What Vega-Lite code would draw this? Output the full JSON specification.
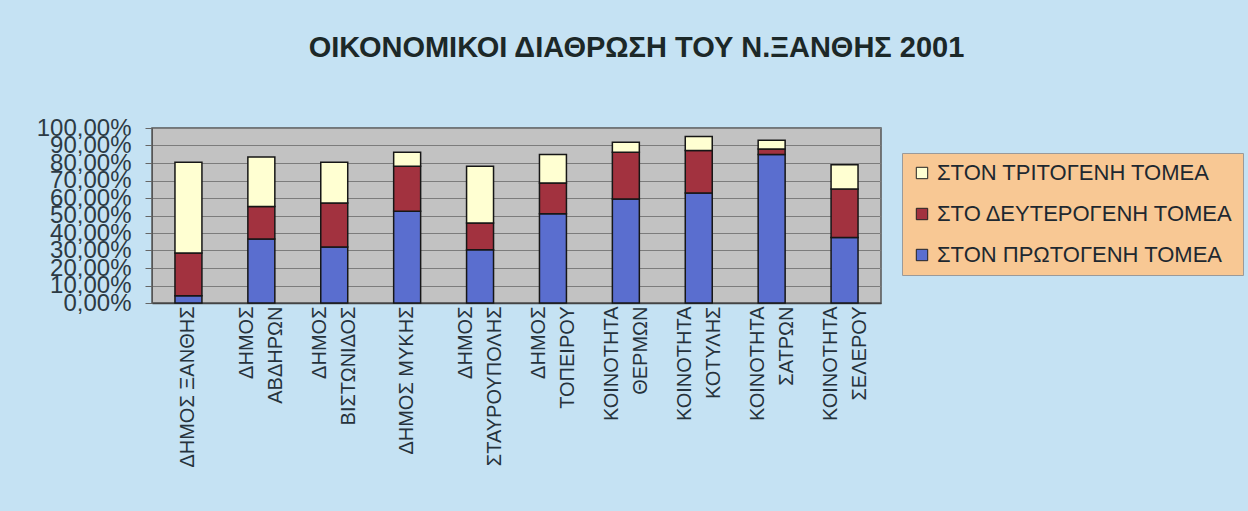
{
  "$schema": "https://vega.github.io/schema/vega-lite/v6.json",
  "width": 729,
  "height": 175,
  "autosize": {"type": "none"},
  "padding": {"left": 152, "top": 128, "right": 367, "bottom": 208},
  "background": "#C5E2F3",
  "title": {
    "text": "ΟΙΚΟΝΟΜΙΚΟΙ ΔΙΑΘΡΩΣΗ ΤΟΥ Ν.ΞΑΝΘΗΣ 2001",
    "font": "Liberation Sans",
    "fontSize": 29,
    "fontWeight": "bold",
    "color": "#1c2828",
    "anchor": "middle",
    "frame": "group",
    "dx": 120,
    "baseline": "alphabetic",
    "offset": 30
  },
  "data": {
    "values": [
      {"area": "ΔΗΜΟΣ ΞΑΝΘΗΣ", "sector": "ΣΤΟΝ ΠΡΩΤΟΓΕΝΗ ΤΟΜΕΑ", "ord": 1, "value": 0.042},
      {"area": "ΔΗΜΟΣ ΞΑΝΘΗΣ", "sector": "ΣΤΟ ΔΕΥΤΕΡΟΓΕΝΗ ΤΟΜΕΑ", "ord": 2, "value": 0.244},
      {"area": "ΔΗΜΟΣ ΞΑΝΘΗΣ", "sector": "ΣΤΟΝ ΤΡΙΤΟΓΕΝΗ ΤΟΜΕΑ", "ord": 3, "value": 0.518},
      {"area": "ΔΗΜΟΣ\nΑΒΔΗΡΩΝ", "sector": "ΣΤΟΝ ΠΡΩΤΟΓΕΝΗ ΤΟΜΕΑ", "ord": 1, "value": 0.366},
      {"area": "ΔΗΜΟΣ\nΑΒΔΗΡΩΝ", "sector": "ΣΤΟ ΔΕΥΤΕΡΟΓΕΝΗ ΤΟΜΕΑ", "ord": 2, "value": 0.186},
      {"area": "ΔΗΜΟΣ\nΑΒΔΗΡΩΝ", "sector": "ΣΤΟΝ ΤΡΙΤΟΓΕΝΗ ΤΟΜΕΑ", "ord": 3, "value": 0.282},
      {"area": "ΔΗΜΟΣ\nΒΙΣΤΩΝΙΔΟΣ", "sector": "ΣΤΟΝ ΠΡΩΤΟΓΕΝΗ ΤΟΜΕΑ", "ord": 1, "value": 0.32},
      {"area": "ΔΗΜΟΣ\nΒΙΣΤΩΝΙΔΟΣ", "sector": "ΣΤΟ ΔΕΥΤΕΡΟΓΕΝΗ ΤΟΜΕΑ", "ord": 2, "value": 0.251},
      {"area": "ΔΗΜΟΣ\nΒΙΣΤΩΝΙΔΟΣ", "sector": "ΣΤΟΝ ΤΡΙΤΟΓΕΝΗ ΤΟΜΕΑ", "ord": 3, "value": 0.233},
      {"area": "ΔΗΜΟΣ ΜΥΚΗΣ", "sector": "ΣΤΟΝ ΠΡΩΤΟΓΕΝΗ ΤΟΜΕΑ", "ord": 1, "value": 0.524},
      {"area": "ΔΗΜΟΣ ΜΥΚΗΣ", "sector": "ΣΤΟ ΔΕΥΤΕΡΟΓΕΝΗ ΤΟΜΕΑ", "ord": 2, "value": 0.257},
      {"area": "ΔΗΜΟΣ ΜΥΚΗΣ", "sector": "ΣΤΟΝ ΤΡΙΤΟΓΕΝΗ ΤΟΜΕΑ", "ord": 3, "value": 0.08},
      {"area": "ΔΗΜΟΣ\nΣΤΑΥΡΟΥΠΟΛΗΣ", "sector": "ΣΤΟΝ ΠΡΩΤΟΓΕΝΗ ΤΟΜΕΑ", "ord": 1, "value": 0.305},
      {"area": "ΔΗΜΟΣ\nΣΤΑΥΡΟΥΠΟΛΗΣ", "sector": "ΣΤΟ ΔΕΥΤΕΡΟΓΕΝΗ ΤΟΜΕΑ", "ord": 2, "value": 0.152},
      {"area": "ΔΗΜΟΣ\nΣΤΑΥΡΟΥΠΟΛΗΣ", "sector": "ΣΤΟΝ ΤΡΙΤΟΓΕΝΗ ΤΟΜΕΑ", "ord": 3, "value": 0.324},
      {"area": "ΔΗΜΟΣ\nΤΟΠΕΙΡΟΥ", "sector": "ΣΤΟΝ ΠΡΩΤΟΓΕΝΗ ΤΟΜΕΑ", "ord": 1, "value": 0.51},
      {"area": "ΔΗΜΟΣ\nΤΟΠΕΙΡΟΥ", "sector": "ΣΤΟ ΔΕΥΤΕΡΟΓΕΝΗ ΤΟΜΕΑ", "ord": 2, "value": 0.176},
      {"area": "ΔΗΜΟΣ\nΤΟΠΕΙΡΟΥ", "sector": "ΣΤΟΝ ΤΡΙΤΟΓΕΝΗ ΤΟΜΕΑ", "ord": 3, "value": 0.162},
      {"area": "ΚΟΙΝΟΤΗΤΑ\nΘΕΡΜΩΝ", "sector": "ΣΤΟΝ ΠΡΩΤΟΓΕΝΗ ΤΟΜΕΑ", "ord": 1, "value": 0.594},
      {"area": "ΚΟΙΝΟΤΗΤΑ\nΘΕΡΜΩΝ", "sector": "ΣΤΟ ΔΕΥΤΕΡΟΓΕΝΗ ΤΟΜΕΑ", "ord": 2, "value": 0.267},
      {"area": "ΚΟΙΝΟΤΗΤΑ\nΘΕΡΜΩΝ", "sector": "ΣΤΟΝ ΤΡΙΤΟΓΕΝΗ ΤΟΜΕΑ", "ord": 3, "value": 0.057},
      {"area": "ΚΟΙΝΟΤΗΤΑ\nΚΟΤΥΛΗΣ", "sector": "ΣΤΟΝ ΠΡΩΤΟΓΕΝΗ ΤΟΜΕΑ", "ord": 1, "value": 0.629},
      {"area": "ΚΟΙΝΟΤΗΤΑ\nΚΟΤΥΛΗΣ", "sector": "ΣΤΟ ΔΕΥΤΕΡΟΓΕΝΗ ΤΟΜΕΑ", "ord": 2, "value": 0.243},
      {"area": "ΚΟΙΝΟΤΗΤΑ\nΚΟΤΥΛΗΣ", "sector": "ΣΤΟΝ ΤΡΙΤΟΓΕΝΗ ΤΟΜΕΑ", "ord": 3, "value": 0.08},
      {"area": "ΚΟΙΝΟΤΗΤΑ\nΣΑΤΡΩΝ", "sector": "ΣΤΟΝ ΠΡΩΤΟΓΕΝΗ ΤΟΜΕΑ", "ord": 1, "value": 0.848},
      {"area": "ΚΟΙΝΟΤΗΤΑ\nΣΑΤΡΩΝ", "sector": "ΣΤΟ ΔΕΥΤΕΡΟΓΕΝΗ ΤΟΜΕΑ", "ord": 2, "value": 0.032},
      {"area": "ΚΟΙΝΟΤΗΤΑ\nΣΑΤΡΩΝ", "sector": "ΣΤΟΝ ΤΡΙΤΟΓΕΝΗ ΤΟΜΕΑ", "ord": 3, "value": 0.05},
      {"area": "ΚΟΙΝΟΤΗΤΑ\nΣΕΛΕΡΟΥ", "sector": "ΣΤΟΝ ΠΡΩΤΟΓΕΝΗ ΤΟΜΕΑ", "ord": 1, "value": 0.375},
      {"area": "ΚΟΙΝΟΤΗΤΑ\nΣΕΛΕΡΟΥ", "sector": "ΣΤΟ ΔΕΥΤΕΡΟΓΕΝΗ ΤΟΜΕΑ", "ord": 2, "value": 0.276},
      {"area": "ΚΟΙΝΟΤΗΤΑ\nΣΕΛΕΡΟΥ", "sector": "ΣΤΟΝ ΤΡΙΤΟΓΕΝΗ ΤΟΜΕΑ", "ord": 3, "value": 0.139}
    ]
  },
  "mark": {"type": "bar", "stroke": "#161616", "strokeWidth": 1.5},
  "encoding": {
    "x": {
      "field": "area",
      "type": "nominal",
      "sort": null,
      "scale": {"paddingInner": 0.63, "paddingOuter": 0.315},
      "axis": {
        "title": null,
        "labelAngle": -90,
        "labelAlign": "right",
        "labelBaseline": "middle",
        "labelExpr": "split(datum.label, '\\n')",
        "labelOffset": {"condition": {"test": "indexof(datum.label, '\\n') >= 0", "value": -14}, "value": 0},
        "labelFont": "Liberation Sans",
        "labelFontSize": 20,
        "labelLineHeight": 29,
        "labelColor": "#26323c",
        "labelPadding": 3,
        "labelLimit": 0,
        "ticks": false,
        "domainColor": "#444",
        "domainWidth": 1.5,
        "grid": false
      }
    },
    "y": {
      "field": "value",
      "type": "quantitative",
      "stack": "zero",
      "scale": {"domain": [0, 1], "nice": false},
      "axis": {
        "title": null,
        "values": [0, 0.1, 0.2, 0.3, 0.4, 0.5, 0.6, 0.7, 0.8, 0.9, 1],
        "labelExpr": "replace(format(datum.value, '.2%'), '.', ',')",
        "labelFont": "Liberation Sans",
        "labelFontSize": 24,
        "labelColor": "#2c3a44",
        "labelPadding": 14,
        "labelOverlap": false,
        "labelFlush": false,
        "labelBaseline": "middle",
        "tickSize": 7,
        "tickColor": "#666",
        "domainColor": "#555",
        "gridColor": "#7c7c7c",
        "gridWidth": 1
      }
    },
    "color": {
      "field": "sector",
      "type": "nominal",
      "scale": {
        "domain": ["ΣΤΟΝ ΤΡΙΤΟΓΕΝΗ ΤΟΜΕΑ", "ΣΤΟ ΔΕΥΤΕΡΟΓΕΝΗ ΤΟΜΕΑ", "ΣΤΟΝ ΠΡΩΤΟΓΕΝΗ ΤΟΜΕΑ"],
        "range": ["#FFFFD2", "#A2323F", "#5A6ECF"]
      },
      "legend": {
        "title": null,
        "orient": "none",
        "legendX": 750,
        "legendY": 25,
        "fillColor": "#F8C894",
        "strokeColor": "#9a9a9a",
        "padding": 9,
        "labelFont": "Liberation Sans",
        "labelFontSize": 22,
        "labelColor": "#1e2830",
        "labelLimit": 0,
        "labelOffset": 4,
        "symbolType": "square",
        "symbolSize": 130,
        "symbolStrokeColor": "#222",
        "symbolStrokeWidth": 1,
        "rowPadding": 19
      }
    },
    "order": {"field": "ord", "type": "quantitative"}
  },
  "config": {
    "view": {"fill": "#C2C2C2", "stroke": "#555", "strokeWidth": 1.5}
  }
}
